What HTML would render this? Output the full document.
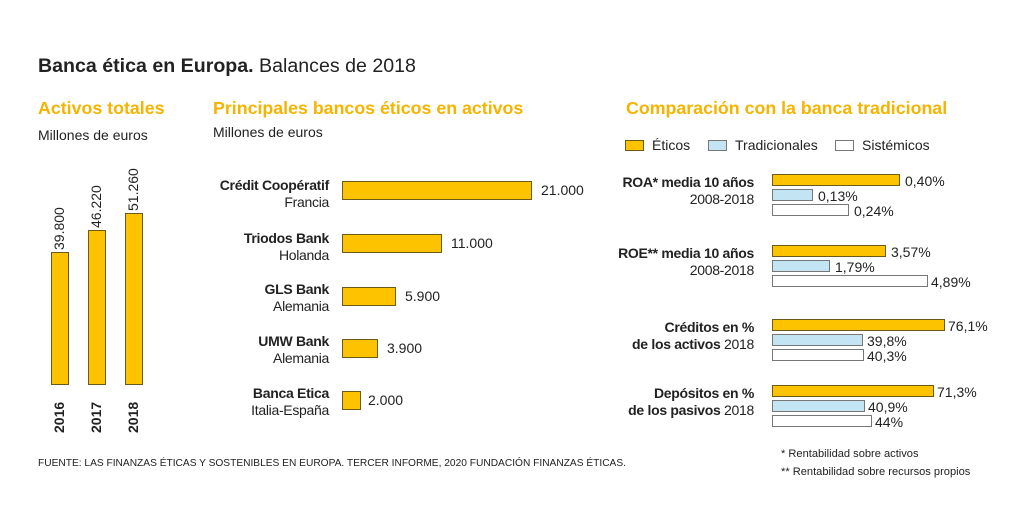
<!DOCTYPE html>
<html><head><meta charset="utf-8"><style>
body{margin:0;width:1024px;height:523px;background:#fff;position:relative;overflow:hidden;font-family:"Liberation Sans",sans-serif;color:#222}
.a{position:absolute;white-space:nowrap}
.y{position:absolute;background:#fdc300;border:1px solid #6b5a1a;box-sizing:border-box}
.b{position:absolute;background:#c3e4f3;border:1px solid #777;box-sizing:border-box}
.w{position:absolute;background:#fff;border:1px solid #777;box-sizing:border-box}
.h{color:#f5b400;font-weight:bold;font-size:17.8px}
.s{font-size:14px}
.r{transform:rotate(-90deg);transform-origin:left top}
.lbl{position:absolute;text-align:right;font-size:14px;line-height:17px;letter-spacing:-0.3px}
</style></head><body>
<div class="a" style="left:38px;top:55px;font-size:19.6px"><b>Banca ética en Europa.</b> Balances de 2018</div>
<div class="a h" style="left:38px;top:98px">Activos totales</div>
<div class="a s" style="left:38px;top:127px">Millones de euros</div>
<div class="a h" style="left:213px;top:98px">Principales bancos éticos en activos</div>
<div class="a s" style="left:213px;top:124px">Millones de euros</div>
<div class="a h" style="left:626px;top:98px">Comparación con la banca tradicional</div>

<div class="y" style="left:51px;top:252px;width:18px;height:133px"></div>
<div class="y" style="left:88px;top:230px;width:18px;height:155px"></div>
<div class="y" style="left:125px;top:213px;width:18px;height:172px"></div>
<div class="a r s" style="left:51px;top:250px">39.800</div>
<div class="a r s" style="left:88px;top:228px">46.220</div>
<div class="a r s" style="left:125px;top:211px">51.260</div>
<div class="a r s" style="left:51px;top:433px;font-weight:bold">2016</div>
<div class="a r s" style="left:88px;top:433px;font-weight:bold">2017</div>
<div class="a r s" style="left:125px;top:433px;font-weight:bold">2018</div>

<div class="lbl" style="right:695px;top:177px"><b>Crédit Coopératif</b><br>Francia</div>
<div class="lbl" style="right:695px;top:230px"><b>Triodos Bank</b><br>Holanda</div>
<div class="lbl" style="right:695px;top:281px"><b>GLS Bank</b><br>Alemania</div>
<div class="lbl" style="right:695px;top:333px"><b>UMW Bank</b><br>Alemania</div>
<div class="lbl" style="right:695px;top:385px"><b>Banca Etica</b><br>Italia-España</div>
<div class="y" style="left:342px;top:181px;width:190px;height:19px"></div>
<div class="y" style="left:342px;top:234px;width:100px;height:19px"></div>
<div class="y" style="left:342px;top:287px;width:54px;height:19px"></div>
<div class="y" style="left:342px;top:339px;width:36px;height:19px"></div>
<div class="y" style="left:342px;top:391px;width:19px;height:19px"></div>
<div class="a s" style="left:541px;top:182px">21.000</div>
<div class="a s" style="left:451px;top:235px">11.000</div>
<div class="a s" style="left:405px;top:288px">5.900</div>
<div class="a s" style="left:387px;top:340px">3.900</div>
<div class="a s" style="left:368px;top:392px">2.000</div>

<div class="y" style="left:625px;top:140px;width:19px;height:11px"></div>
<div class="a s" style="left:652px;top:137px">Éticos</div>
<div class="b" style="left:708px;top:140px;width:19px;height:11px"></div>
<div class="a s" style="left:735px;top:137px">Tradicionales</div>
<div class="w" style="left:835px;top:140px;width:19px;height:11px"></div>
<div class="a s" style="left:862px;top:137px">Sistémicos</div>

<div class="lbl" style="right:270px;top:174px"><b>ROA* media 10 años</b><br>2008-2018</div>
<div class="lbl" style="right:270px;top:245px"><b>ROE** media 10 años</b><br>2008-2018</div>
<div class="lbl" style="right:270px;top:319px"><b>Créditos en %</b><br><b>de los activos</b> 2018</div>
<div class="lbl" style="right:270px;top:385px"><b>Depósitos en %</b><br><b>de los pasivos</b> 2018</div>

<div class="y" style="left:772px;top:174px;width:128px;height:12px"></div>
<div class="b" style="left:772px;top:189px;width:41px;height:12px"></div>
<div class="w" style="left:772px;top:204px;width:77px;height:12px"></div>
<div class="a s" style="left:905px;top:173px">0,40%</div>
<div class="a s" style="left:818px;top:188px">0,13%</div>
<div class="a s" style="left:854px;top:203px">0,24%</div>

<div class="y" style="left:772px;top:245px;width:114px;height:12px"></div>
<div class="b" style="left:772px;top:260px;width:58px;height:12px"></div>
<div class="w" style="left:772px;top:275px;width:156px;height:12px"></div>
<div class="a s" style="left:891px;top:244px">3,57%</div>
<div class="a s" style="left:835px;top:259px">1,79%</div>
<div class="a s" style="left:931px;top:274px">4,89%</div>

<div class="y" style="left:772px;top:319px;width:173px;height:12px"></div>
<div class="b" style="left:772px;top:334px;width:91px;height:12px"></div>
<div class="w" style="left:772px;top:349px;width:92px;height:12px"></div>
<div class="a s" style="left:948px;top:318px">76,1%</div>
<div class="a s" style="left:867px;top:333px">39,8%</div>
<div class="a s" style="left:867px;top:348px">40,3%</div>

<div class="y" style="left:772px;top:385px;width:162px;height:12px"></div>
<div class="b" style="left:772px;top:400px;width:93px;height:12px"></div>
<div class="w" style="left:772px;top:415px;width:100px;height:12px"></div>
<div class="a s" style="left:937px;top:384px">71,3%</div>
<div class="a s" style="left:868px;top:399px">40,9%</div>
<div class="a s" style="left:875px;top:414px">44%</div>

<div class="a" style="left:38px;top:458px;font-size:10.2px">FUENTE: LAS FINANZAS ÉTICAS Y SOSTENIBLES EN EUROPA. TERCER INFORME, 2020 FUNDACIÓN FINANZAS ÉTICAS.</div>
<div class="a" style="left:781px;top:448px;font-size:11.1px">* Rentabilidad sobre activos</div>
<div class="a" style="left:781px;top:466px;font-size:11.1px">** Rentabilidad sobre recursos propios</div>
</body></html>
